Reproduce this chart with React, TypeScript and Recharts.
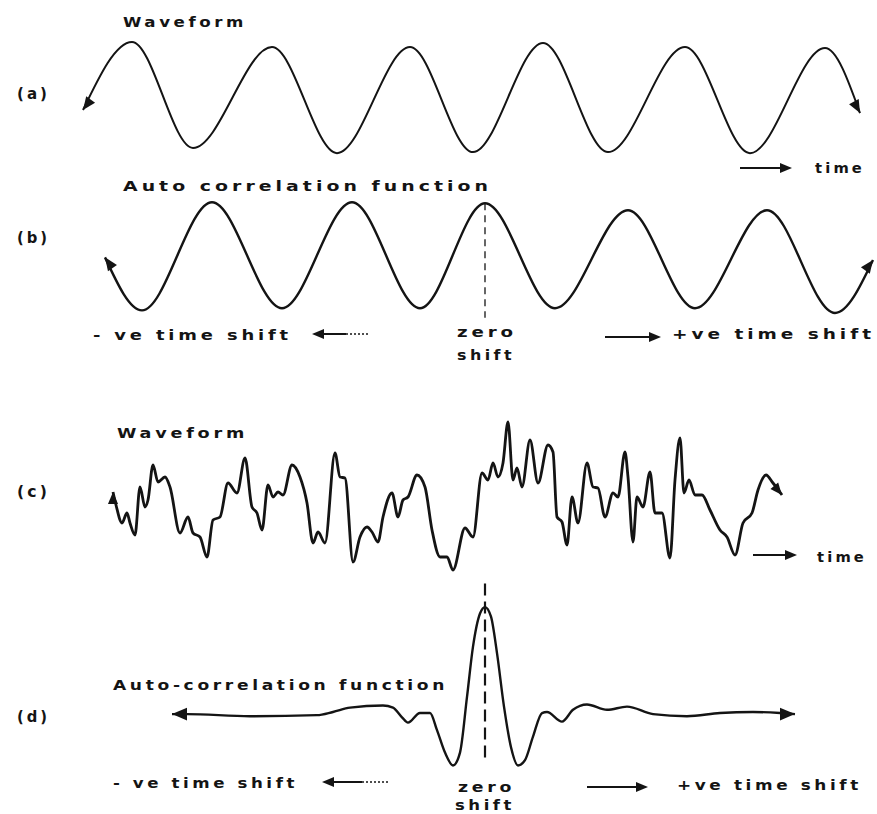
import React from "react";
import { LineChart, Line, XAxis, YAxis, ReferenceLine } from "recharts";

// (a) sinusoidal waveform, read at start, peaks, troughs and end
const sineTime = [0, 49, 110, 189, 254, 327, 390, 460, 525, 602, 667, 742, 777];
const sineValue = [-0.25, 1.06, -0.98, 0.96, -1.08, 0.96, -1.06, 1.04, -1.06, 0.96, -1.08, 0.94, -0.31];

// (b) its auto-correlation, lag 0 at the dashed line
const sineLag = [-380, -343, -273, -203, -133, -65, 0, 70, 143, 210, 282, 350, 388];
const sineAcf = [-0.04, -1.04, 1.0, -1.0, 1.0, -1.0, 0.98, -1.0, 0.85, -1.0, 0.85, -1.09, -0.09];

// (c) random waveform
const noiseTime = [
  0, 3, 9, 14, 17, 22, 27, 32, 35, 40, 45, 52, 57, 67, 75, 80, 87, 94, 100, 107,
  115, 124, 132, 139, 144, 149, 155, 160, 165, 170, 179, 187, 194, 200, 205, 212,
  222, 227, 232, 240, 247, 254, 259, 265, 270, 279, 285, 290, 295, 304, 312, 319,
  327, 334, 340, 352, 360, 369, 375, 380, 385, 390, 395, 400, 404, 409, 417, 425,
  435, 440, 444, 449, 454, 459, 465, 474, 480, 485, 492, 500, 505, 512, 515, 520,
  524, 530, 537, 542, 549, 557, 562, 567, 571, 576, 582, 589, 597, 607, 614, 622,
  630, 639, 645, 653, 660, 669,
];
const noiseValue = [
  0.8, -0.5, -2.3, -1.3, -2.3, -3.5, 1.3, -0.7, 0.0, 3.5, 1.8, 2.3, 1.3, -3.3, -1.7, -3.3, -3.7, -5.7, -2.0, -1.7,
  1.7, 0.7, 4.2, -0.7, -1.3, -3.0, 1.5, 0.3, 0.8, 0.5, 3.5, 2.3, -0.3, -4.3, -3.2, -4.3,
  4.7, 2.3, 2.2, -6.2, -3.7, -2.7, -3.2, -4.2, -1.7, 0.7, -1.7, 0.0, 0.3, 2.5, 1.3, -3.0,
  -5.7, -5.7, -7.0, -2.8, -3.7, 2.7, 2.0, 3.7, 2.3, 3.7, 7.8, 2.0, 3.2, 1.3, 6.0, 1.7,
  5.5, 4.8, -1.7, -2.2, -4.5, 0.3, -2.3, 3.7, 1.3, 1.2, -1.7, 0.7, 0.3, 4.8, 2.3, -4.2,
  0.3, -0.7, 2.8, -1.3, -1.3, -5.8, 2.0, 6.2, 0.7, 2.0, 0.5, 0.5, -1.0, -3.0, -3.7, -5.5,
  -2.3, -1.3, 1.0, 2.5, 1.7, 0.5,
];

// (d) its auto-correlation
const noiseLag = [
  -313, -298, -235, -168, -152, -135, -102, -92, -83, -77, -65, -55, -48, -40, -32, -25, -18, -12, -5,
  0, 6, 12, 19, 26, 33, 40, 48, 57, 62, 77, 88, 102, 122, 142, 168, 202, 235, 268, 295, 310,
];
const noiseAcf = [
  0, 0, -0.02, -0.01, 0.02, 0.06, 0.08, 0.06, -0.03, -0.08, 0.01, 0.01, -0.15, -0.36, -0.48, -0.36, 0.16, 0.63, 0.94,
  1.0, 0.91, 0.57, 0.07, -0.31, -0.48, -0.43, -0.21, 0.01, 0.02, -0.07, 0.04, 0.09, 0.04, 0.07, 0, -0.02, 0.01, 0.02, 0.01, 0,
];

const zip = (xs: number[], ys: number[]) => xs.map((t, i) => ({ t, v: ys[i] }));

const INK = "#141414";
const FONT = "'DejaVu Sans', Verdana, sans-serif";
const M = 14;

const arrowDot =
  (last: number, startAngle: number, endAngle: number, size: number) =>
  (props: any) => {
    const { cx, cy, index } = props;
    if (index !== 0 && index !== last) return <g key={`d${index}`} />;
    const a = index === 0 ? startAngle : endAngle;
    return (
      <polygon
        key={`d${index}`}
        points={`0,0 ${-size},${-size * 0.42} ${-size},${size * 0.42}`}
        transform={`translate(${cx},${cy}) rotate(${a})`}
        fill={INK}
      />
    );
  };

type PanelProps = {
  plot: { left: number; top: number; width: number; height: number };
  xDomain: [number, number];
  yDomain: [number, number];
  data: { t: number; v: number }[];
  strokeWidth: number;
  arrows: [number, number, number];
  dash?: { from: number; to: number; width: number; pattern: string };
};

const Panel = ({ plot, xDomain, yDomain, data, strokeWidth, arrows, dash }: PanelProps) => (
  <div style={{ position: "absolute", left: plot.left - M, top: plot.top - M }}>
    <LineChart
      width={plot.width + 2 * M}
      height={plot.height + 2 * M}
      data={data}
      margin={{ top: M, right: M, bottom: M, left: M }}
    >
      <XAxis type="number" dataKey="t" domain={xDomain} hide />
      <YAxis type="number" domain={yDomain} hide />
      {dash && (
        <ReferenceLine
          segment={[
            { x: 0, y: dash.from },
            { x: 0, y: dash.to },
          ]}
          stroke={INK}
          strokeWidth={dash.width}
          strokeDasharray={dash.pattern}
          ifOverflow="visible"
        />
      )}
      <Line
        type="monotone"
        dataKey="v"
        stroke={INK}
        strokeWidth={strokeWidth}
        strokeLinejoin="round"
        dot={arrowDot(data.length - 1, arrows[0], arrows[1], arrows[2])}
        activeDot={false}
        isAnimationActive={false}
      />
    </LineChart>
  </div>
);

const Arrow = ({ x1, x2, y, dotted = 0 }: { x1: number; x2: number; y: number; dotted?: number }) => {
  // x1 = tail, x2 = tip
  const dir = x2 > x1 ? 1 : -1;
  const head = 12;
  const solidStart = x1 + dir * dotted;
  return (
    <g>
      {dotted > 0 && (
        <line x1={x1} y1={y} x2={solidStart} y2={y} stroke={INK} strokeWidth={1.5} strokeDasharray="2 2" />
      )}
      <line x1={solidStart} y1={y} x2={x2 - dir * head} y2={y} stroke={INK} strokeWidth={2} />
      <polygon points={`${x2},${y} ${x2 - dir * head},${y - 5} ${x2 - dir * head},${y + 5}`} fill={INK} />
    </g>
  );
};

const Label = ({ x, y, w, children, size = 14 }: { x: number; y: number; w: number; children: string; size?: number }) => (
  <text
    x={x}
    y={y}
    textLength={w}
    lengthAdjust="spacingAndGlyphs"
    letterSpacing={3}
    fontFamily={FONT}
    fontWeight="bold"
    fontSize={size}
    fill={INK}
  >
    {children}
  </text>
);

export default function App() {
  return (
    <div style={{ position: "absolute", left: 0, top: 0, width: 877, height: 814, background: "#fff", overflow: "hidden" }}>
      <Panel
        plot={{ left: 83, top: 32, width: 777, height: 130 }}
        xDomain={[0, 777]}
        yDomain={[-1.25, 1.25]}
        data={zip(sineTime, sineValue)}
        strokeWidth={2}
        arrows={[126, 62, 13]}
      />
      <Panel
        plot={{ left: 105, top: 188.75, width: 768, height: 132.5 }}
        xDomain={[-380, 388]}
        yDomain={[-1.25, 1.25]}
        data={zip(sineLag, sineAcf)}
        strokeWidth={2.4}
        arrows={[-125, -54, 13]}
        dash={{ from: 0.98, to: -1.18, width: 1.3, pattern: "7 5" }}
      />
      <Panel
        plot={{ left: 113, top: 420, width: 669, height: 160 }}
        xDomain={[0, 669]}
        yDomain={[-8, 8]}
        data={zip(noiseTime, noiseValue)}
        strokeWidth={2.8}
        arrows={[-90, 50, 12]}
      />
      <Panel
        plot={{ left: 172, top: 574.9, width: 623, height: 203.3 }}
        xDomain={[-313, 310]}
        yDomain={[-0.6, 1.3]}
        data={zip(noiseLag, noiseAcf)}
        strokeWidth={2.4}
        arrows={[180, 0, 15]}
        dash={{ from: 1.22, to: -0.43, width: 2.2, pattern: "12 6" }}
      />
      <svg width={877} height={814} style={{ position: "absolute", left: 0, top: 0, pointerEvents: "none" }}>
        <Label x={123} y={27} w={124}>Waveform</Label>
        <Label x={17} y={99} w={33} size={15}>(a)</Label>
        <Arrow x1={740} x2={792} y={168} />
        <Label x={815} y={173} w={50}>time</Label>

        <Label x={123} y={191} w={369}>Auto correlation function</Label>
        <Label x={17} y={243} w={33} size={15}>(b)</Label>
        <Label x={93} y={340} w={199}>- ve time shift</Label>
        <Arrow x1={368} x2={312} y={334} dotted={22} />
        <Label x={457} y={337} w={60}>zero</Label>
        <Label x={457} y={360} w={58}>shift</Label>
        <Arrow x1={605} x2={661} y={337} />
        <Label x={672} y={339} w={203}>+ve time shift</Label>

        <Label x={117} y={438} w={131}>Waveform</Label>
        <Label x={17} y={497} w={33} size={15}>(c)</Label>
        <Arrow x1={753} x2={797} y={555} />
        <Label x={817} y={562} w={50}>time</Label>

        <Label x={113} y={690} w={335}>Auto-correlation function</Label>
        <Label x={17} y={722} w={33} size={15}>(d)</Label>
        <Label x={113} y={788} w={185}>- ve time shift</Label>
        <Arrow x1={388} x2={322} y={782} dotted={26} />
        <Label x={458} y={792} w={57}>zero</Label>
        <Label x={455} y={810} w={60}>shift</Label>
        <Arrow x1={587} x2={648} y={787} />
        <Label x={677} y={790} w={185}>+ve time shift</Label>
      </svg>
    </div>
  );
}
